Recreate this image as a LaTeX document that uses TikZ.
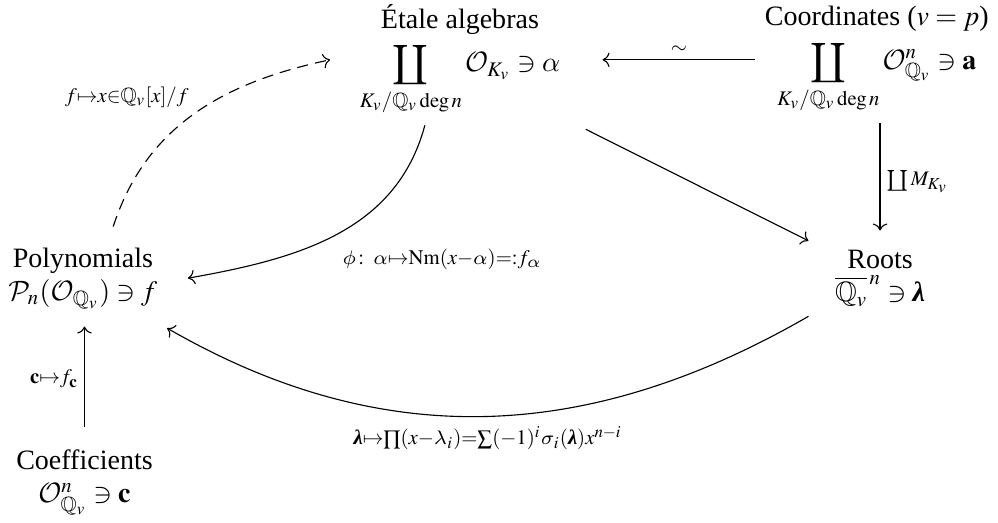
\documentclass[tikz,border=0pt]{standalone}
\usepackage{amsmath,amssymb}
\usepackage{mathptmx}
\usepackage{fontspec}
\setmainfont{Liberation Serif}
\usetikzlibrary{arrows.meta}

% mathptmx has no coproduct sign: take it from cmex
\DeclareSymbolFont{cmlargesymbols}{OMX}{cmex}{m}{n}
\let\coprod\undefined
\DeclareMathSymbol{\coprod}{\mathop}{cmlargesymbols}{"60}
% calligraphic and slanted greek letters as in cm
\DeclareMathAlphabet{\mathcal}{OMS}{cmsy}{m}{n}
\DeclareSymbolFont{cmletters}{OML}{cmm}{m}{it}
\DeclareMathSymbol{\alpha}{\mathord}{cmletters}{"0B}
\DeclareMathSymbol{\lambda}{\mathord}{cmletters}{"15}
\DeclareMathSymbol{\sigma}{\mathord}{cmletters}{"1B}
\DeclareMathSymbol{\phi}{\mathord}{cmletters}{"1E}
\newcommand{\blam}{\text{\bfseries\itshape λ}}

\begin{document}
\begin{tikzpicture}[
    >={To},
    obj/.style={align=center, inner sep=3.3pt},
    map/.style={draw, ->},
    dashmap/.style={map, dash pattern=on 4pt off 2.5pt},
    lbl/.style={inner sep=2pt}
]
\useasboundingbox (0,0) rectangle (12.52,-6.56);

% Objects
\node[obj] (etale) at (5.77,-0.75)
    {Étale algebras\\[2pt]
     $\displaystyle\coprod_{K_v/\mathbb{Q}_v \deg n} \mathcal{O}_{K_v} \ni \alpha$};
\node[obj] (coord) at (11.0,-0.75)
    {Coordinates ($v=p$)\\[2pt]
     $\displaystyle\coprod_{K_v/\mathbb{Q}_v \deg n} \mathcal{O}^n_{\mathbb{Q}_v} \ni \mathbf{a}$};
\node[obj] (poly) at (1.04,-3.49)
    {Polynomials\\ $\mathcal{P}_n(\mathcal{O}_{\mathbb{Q}_v}) \ni f$};
\node[obj] (roots) at (11.04,-3.49)
    {Roots\\ $\overline{\mathbb{Q}_v}^{\,n} \ni \blam$};
\node[obj] (coef) at (1.06,-6.05)
    {Coefficients\\ $\mathcal{O}^n_{\mathbb{Q}_v} \ni \mathbf{c}$};

% Maps
\draw[map] (coord.west) -- node[above, lbl] {$\scriptstyle\sim$}
    ([xshift=0.41cm]etale.east);
\draw[map, shorten >=0.12cm] (coord.south -| roots.north) --
    node[right, lbl] {$\scriptstyle\coprod M_{K_v}$} (roots.north);
\draw[map] ([shift={(0.2,-0.05)}]etale.south east) --
    ([shift={(-0.21,-0.01)}]roots.north west);
\draw[map] ([xshift=-0.44cm]etale.south) to[out=-105, in=10]
    node[pos=0.5, below right, yshift=-0.1cm, lbl]
    {$\scriptstyle\phi\colon\,\alpha\mapsto\operatorname{Nm}(x-\alpha)=:f_\alpha$}
    ([xshift=0.26cm]poly.east);
\draw[dashmap] ([shift={(0.38,0.14)}]poly.north) to[out=72, in=192]
    node[pos=0.5, above left, lbl]
    {$\scriptstyle f\mapsto x\in\mathbb{Q}_v[x]/f$}
    ([xshift=-0.25cm]etale.west);
\draw[map] ([xshift=-0.21cm]roots.south west) to[out=-150, in=-30]
    node[pos=0.5, below, yshift=-0.05cm, lbl]
    {$\scriptstyle\blam\mapsto\prod(x-\lambda_i)=\sum(-1)^i\sigma_i(\blam)x^{n-i}$}
    ([yshift=-0.12cm]poly.south east);
\draw[map, shorten <=0.16cm, shorten >=0.1cm] (coef.north) --
    node[left, lbl] {$\scriptstyle\mathbf{c}\mapsto f_{\mathbf{c}}$}
    (coef.north |- poly.south);

\end{tikzpicture}
\end{document}
